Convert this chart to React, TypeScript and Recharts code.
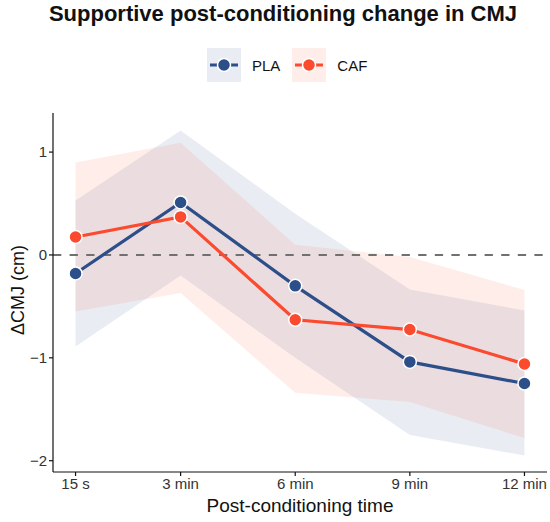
import React from "react";
import { Area, ComposedChart, Line, ReferenceLine, XAxis, YAxis } from "recharts";

const TIMES = [0.25, 3, 6, 9, 12];
const TIME_LABELS = ["15 s", "3 min", "6 min", "9 min", "12 min"];

const PLA_MEAN = [-0.18, 0.51, -0.3, -1.04, -1.25];
const PLA_LOW = [-0.89, -0.2, -1.0, -1.75, -1.95];
const PLA_HIGH = [0.53, 1.21, 0.4, -0.335, -0.54];

const CAF_MEAN = [0.175, 0.37, -0.63, -0.725, -1.06];
const CAF_LOW = [-0.55, -0.37, -1.34, -1.43, -1.78];
const CAF_HIGH = [0.9, 1.09, 0.1, -0.02, -0.34];

const Y_TICKS = [-2, -1, 0, 1];

const PLA_COLOR = "#2c4f8a";
const CAF_COLOR = "#fb4a2e";
const FONT = "'Liberation Sans', Arial, Helvetica, sans-serif";

const data = TIMES.map((t, i) => ({
  t,
  pla: PLA_MEAN[i],
  plaBand: [PLA_LOW[i], PLA_HIGH[i]],
  caf: CAF_MEAN[i],
  cafBand: [CAF_LOW[i], CAF_HIGH[i]],
}));

function LegendKey({ color, label }: { color: string; label: string }) {
  return (
    <div style={{ display: "flex", alignItems: "center", marginRight: 12 }}>
      <svg width={34} height={34}>
        <rect x={0} y={0} width={34} height={34} fill={color} fillOpacity={0.1} />
        <line x1={3} x2={31} y1={17} y2={17} stroke={color} strokeWidth={3} />
        <circle cx={17} cy={17} r={6.5} fill={color} stroke="#fff" strokeWidth={1.5} />
      </svg>
      <span style={{ marginLeft: 11, fontSize: 15, color: "#111" }}>{label}</span>
    </div>
  );
}

export default function App() {
  const tickStyle = { fontSize: 15, fill: "#333", fontFamily: FONT };
  return (
    <div style={{ position: "fixed", left: 0, top: 0, width: 550, height: 522, background: "#fff", fontFamily: FONT }}>
      <div style={{ position: "absolute", left: 0, top: 1, width: 566, textAlign: "center", fontSize: 22, fontWeight: "bold", color: "#111" }}>
        Supportive post-conditioning change in CMJ
      </div>
      <div style={{ position: "absolute", left: 207, top: 48, display: "flex" }}>
        <LegendKey color={PLA_COLOR} label="PLA" />
        <LegendKey color={CAF_COLOR} label="CAF" />
      </div>
      <ComposedChart width={550} height={522} data={data} margin={{ top: 113, right: 3, bottom: 20, left: 0 }}>
        <XAxis
          dataKey="t"
          type="number"
          domain={[-0.34, 12.59]}
          ticks={TIMES}
          tickFormatter={(v: number) => TIME_LABELS[TIMES.indexOf(v)] ?? ""}
          tick={tickStyle}
          tickSize={4}
          height={30}
          axisLine={{ stroke: "#111", strokeWidth: 1.2 }}
          tickLine={{ stroke: "#111", strokeWidth: 1.2 }}
          allowDataOverflow
        />
        <YAxis
          type="number"
          domain={[-2.11, 1.38]}
          ticks={Y_TICKS}
          tickFormatter={(v: number) => String(v).replace("-", "\u2212")}
          tick={tickStyle}
          tickSize={4}
          width={53}
          axisLine={{ stroke: "#111", strokeWidth: 1.2 }}
          tickLine={{ stroke: "#111", strokeWidth: 1.2 }}
          allowDataOverflow
        />
        <Area dataKey="plaBand" type="linear" stroke="none" fill={PLA_COLOR} fillOpacity={0.1} isAnimationActive={false} />
        <Area dataKey="cafBand" type="linear" stroke="none" fill={CAF_COLOR} fillOpacity={0.1} isAnimationActive={false} />
        <ReferenceLine y={0} stroke="#707070" strokeWidth={2} strokeDasharray="8.3 8.3" />
        <Line
          dataKey="pla"
          type="linear"
          stroke={PLA_COLOR}
          strokeWidth={3.2}
          dot={{ r: 6.5, fill: PLA_COLOR, stroke: "#fff", strokeWidth: 1.5 }}
          isAnimationActive={false}
        />
        <Line
          dataKey="caf"
          type="linear"
          stroke={CAF_COLOR}
          strokeWidth={3.2}
          dot={{ r: 6.5, fill: CAF_COLOR, stroke: "#fff", strokeWidth: 1.5 }}
          isAnimationActive={false}
        />
      </ComposedChart>
      <div style={{ position: "absolute", left: 53, width: 494, top: 495, textAlign: "center", fontSize: 19, color: "#111" }}>
        Post-conditioning time
      </div>
      <div
        style={{
          position: "absolute",
          left: 18,
          top: 290,
          transform: "translate(-50%, -50%) rotate(-90deg)",
          whiteSpace: "nowrap",
          fontSize: 18,
          color: "#111",
        }}
      >
        ΔCMJ (cm)
      </div>
    </div>
  );
}
